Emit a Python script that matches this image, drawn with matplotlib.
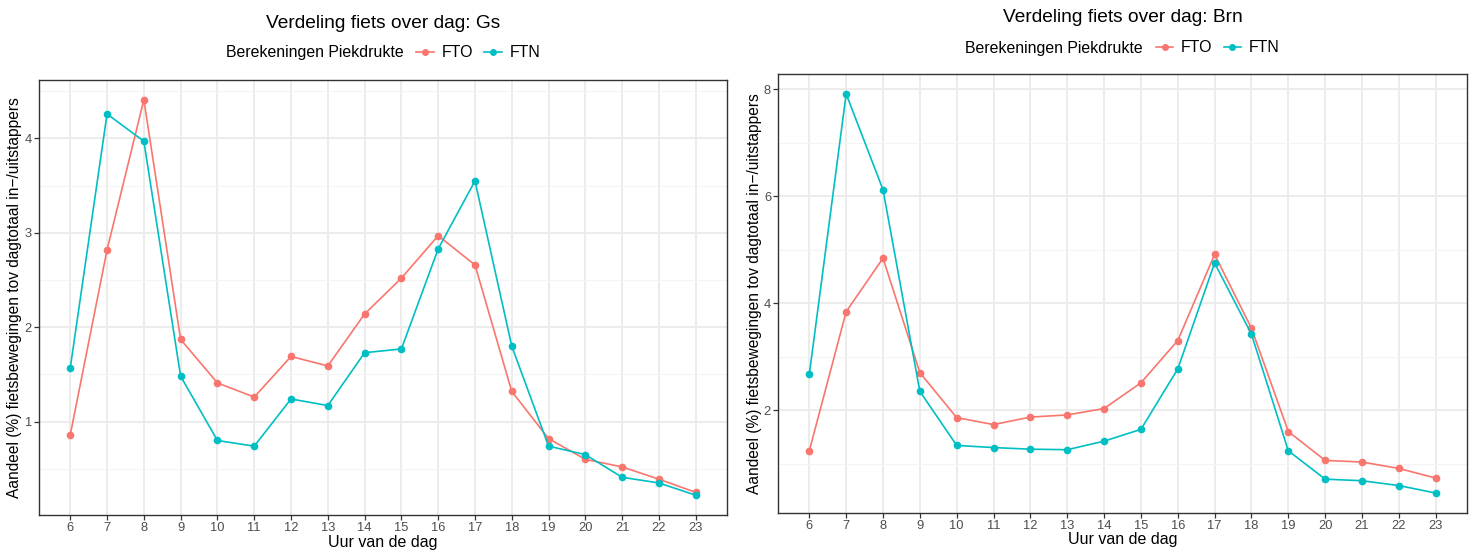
import matplotlib
matplotlib.use("Agg")
import matplotlib.pyplot as plt
from matplotlib.lines import Line2D

plt.rcParams["font.family"] = ["Liberation Sans", "DejaVu Sans"]

hours = list(range(6, 24))

gs_fto = [0.86, 2.82, 4.41, 1.87, 1.41, 1.26, 1.69, 1.59, 2.14, 2.52, 2.97, 2.66, 1.32, 0.82, 0.60, 0.52, 0.39, 0.25]
gs_ftn = [1.57, 4.26, 3.97, 1.48, 0.80, 0.74, 1.24, 1.17, 1.73, 1.77, 2.83, 3.55, 1.80, 0.74, 0.65, 0.41, 0.35, 0.22]

brn_fto = [1.24, 3.84, 4.84, 2.70, 1.86, 1.73, 1.87, 1.91, 2.03, 2.51, 3.30, 4.91, 3.53, 1.60, 1.06, 1.03, 0.91, 0.73]
brn_ftn = [2.67, 7.91, 6.12, 2.35, 1.34, 1.30, 1.27, 1.26, 1.42, 1.64, 2.77, 4.75, 3.42, 1.24, 0.71, 0.68, 0.59, 0.45]

panels = [
    ("Gs", gs_fto, gs_ftn, [1, 2, 3, 4], [0.5, 1.5, 2.5, 3.5, 4.5]),
    ("Brn", brn_fto, brn_ftn, [2, 4, 6, 8], [1, 3, 5, 7]),
]

RED = "#F8766D"
CYAN = "#00BFC4"
YLABEL = "Aandeel (%) fietsbewegingen tov dagtotaal in\u2212/uitstappers"

W, H = 1472, 551
fig = plt.figure(figsize=(W / 100, H / 100), dpi=100)

# pixel boxes (left, top, right, bottom) for each panel
boxes = [(39, 80, 727, 515), (778, 74, 1467, 513)]
title_y = [23, 18]
legend_y = [53, 48]
xlabel_base = [547, 544]


def px(x, y):
    return x / W, 1 - y / H


for (name, fto, ftn, majors, minors), (l, t, r, b), ty, ly, xb in zip(panels, boxes, title_y, legend_y, xlabel_base):
    ax = fig.add_axes([l / W, 1 - b / H, (r - l) / W, (b - t) / H])

    ax.plot(hours, fto, color=RED, lw=1.2, marker="o", ms=4.5, zorder=3)
    ax.plot(hours, ftn, color=CYAN, lw=1.2, marker="o", ms=4.5, zorder=3)

    lo = min(min(fto), min(ftn))
    hi = max(max(fto), max(ftn))
    pad = (hi - lo) * 0.05
    ax.set_ylim(lo - pad, hi + pad)
    xpad = (hours[-1] - hours[0]) * 0.05
    ax.set_xlim(hours[0] - xpad, hours[-1] + xpad)

    ax.set_xticks(hours)
    ax.set_xticklabels([str(h) for h in hours])
    ax.set_yticks(majors)
    ax.set_yticklabels([str(v) for v in majors])
    ax.set_yticks(minors, minor=True)

    ax.grid(True, which="major", color="#EBEBEB", lw=1.3, zorder=0)
    ax.grid(True, which="minor", axis="y", color="#F4F4F4", lw=0.8, zorder=0)
    ax.set_axisbelow(True)
    for s in ax.spines.values():
        s.set_color("#333333")
        s.set_linewidth(1.0)
    ax.tick_params(which="major", length=3.5, width=0.9, color="#333333",
                   labelsize=9.3, labelcolor="#4D4D4D", pad=1.5)
    ax.tick_params(which="minor", length=0)

    cx = (l + r) / 2
    fig.text(*px(cx, ty), f"Verdeling fiets over dag: {name}", ha="center", va="center",
             fontsize=13.8, color="black")
    fig.text(*px(l - 24, (t + b) / 2), YLABEL, rotation=90, ha="center", va="center",
             fontsize=11.2, color="black")
    fig.text(*px(cx, xb), "Uur van de dag", ha="center", va="baseline", fontsize=11.5, color="black")

    # legend: title on the left, keys to the right, whole group centred on the panel
    ttl = fig.text(*px(cx, ly), "Berekeningen Piekdrukte", ha="right", va="center",
                   fontsize=11.4, color="black")
    handles = [
        Line2D([], [], color=RED, lw=1.2, marker="o", ms=4),
        Line2D([], [], color=CYAN, lw=1.2, marker="o", ms=4),
    ]
    leg = fig.legend(handles, ["FTO", "FTN"], ncol=2, frameon=False, fontsize=11.4,
                     loc="center left", bbox_to_anchor=px(cx, ly),
                     handlelength=1.1, handletextpad=0.5, columnspacing=0.7,
                     borderpad=0, borderaxespad=0)
    fig.canvas.draw()
    rend = fig.canvas.get_renderer()
    tw = ttl.get_window_extent(rend).width
    lw_ = leg.get_window_extent(rend).width
    gap = 13
    total = tw + gap + lw_
    start = cx - total / 2
    ttl.set_position(px(start + tw, ly))
    leg.set_bbox_to_anchor(px(start + tw + gap, ly), transform=fig.transFigure)

fig.savefig("out.png", dpi=100)
